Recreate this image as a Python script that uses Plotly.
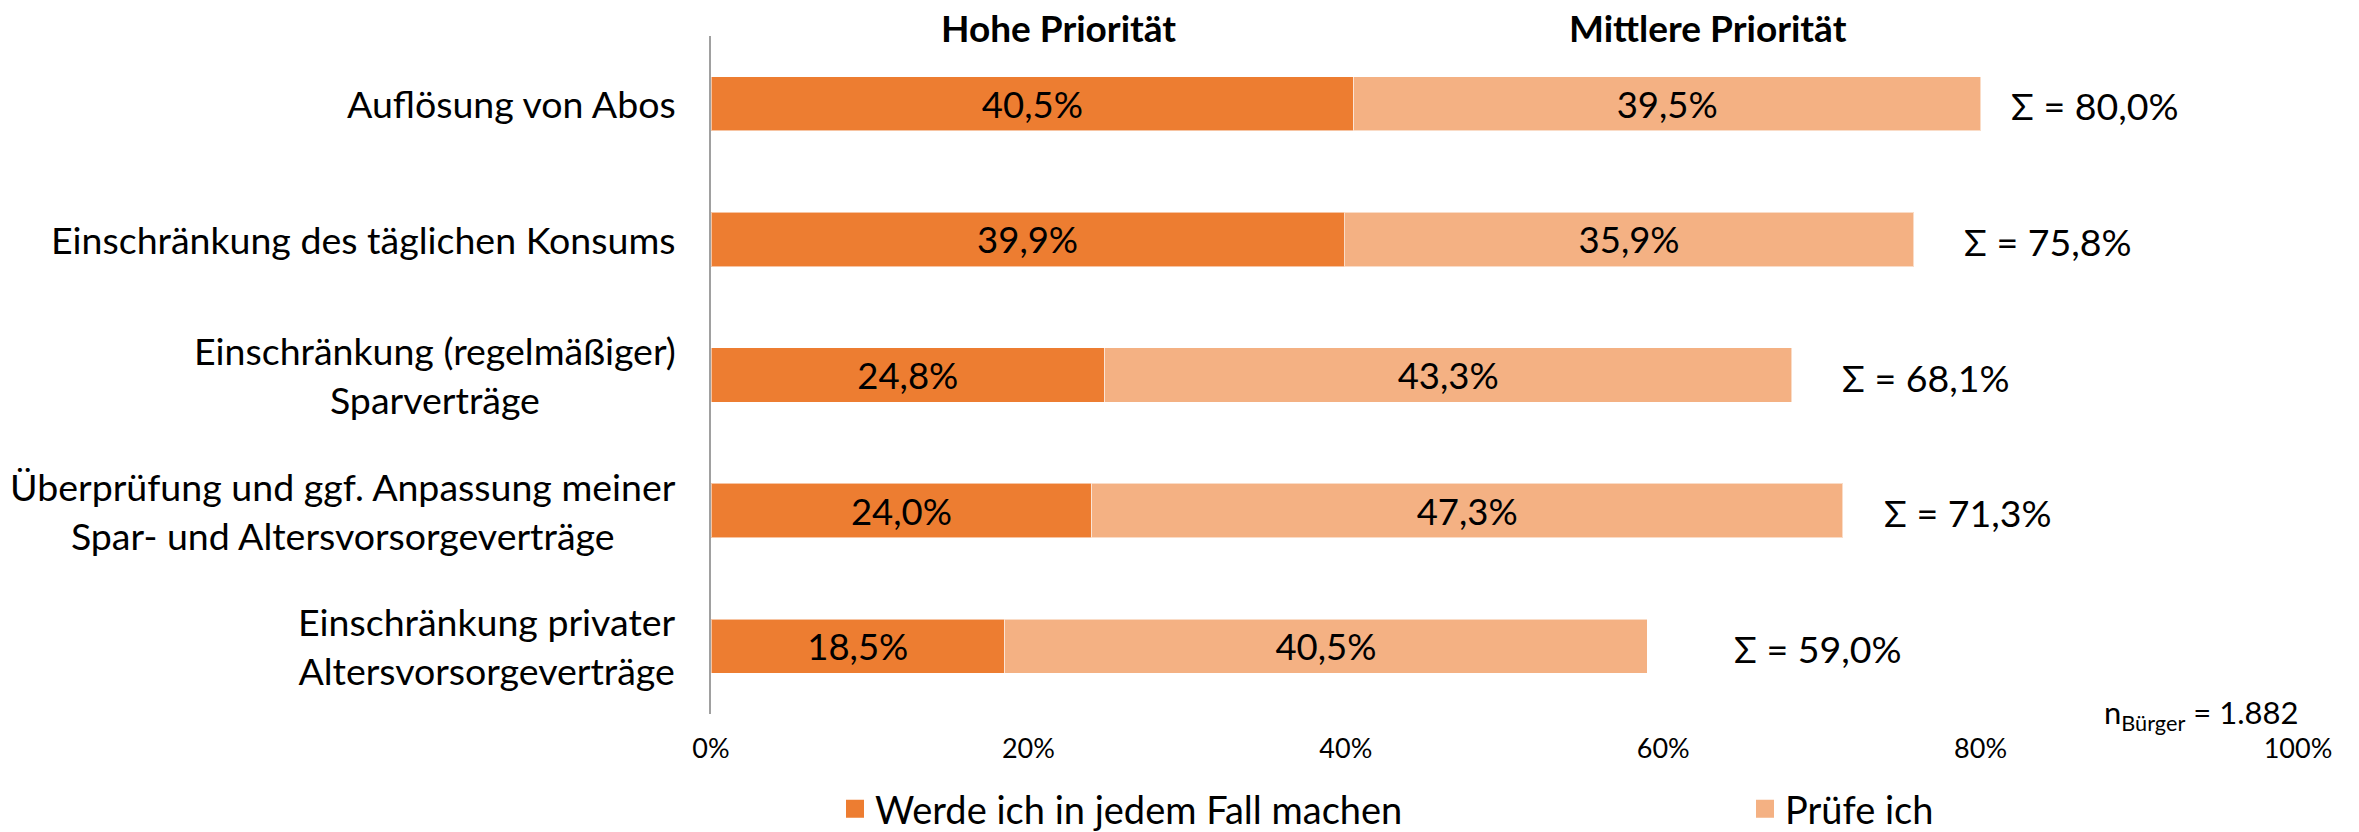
import plotly.graph_objects as go

categories = [
    "Auflösung von Abos",
    "Einschränkung des täglichen Konsums",
    "Einschränkung (regelmäßiger)<br>Sparverträge",
    "Überprüfung und ggf. Anpassung meiner<br>Spar- und Altersvorsorgeverträge",
    "Einschränkung privater<br>Altersvorsorgeverträge",
]
series_names = ["Werde ich in jedem Fall machen", "Prüfe ich"]
hohe = [40.5, 39.9, 24.8, 24.0, 18.5]
mittlere = [39.5, 35.9, 43.3, 47.3, 40.5]
tick_values = [0, 20, 40, 60, 80, 100]
tick_labels = ["0%", "20%", "40%", "60%", "80%", "100%"]
header_texts = ["Hohe Priorität", "Mittlere Priorität"]
n_text = "n<sub>Bürger</sub> = 1.882"

# styling / layout (not data)
colors = ["#ED7D31", "#F4B183"]
sum_gap_px = [28, 48, 48, 39, 85]
FONT = "Lato"

W, H = 2359, 832
ML, MT = 711, 36
MR = W - 2298
MB = H - 714
PW, PH = W - ML - MR, H - MT - MB

fig = go.Figure()
legend_ids = ["legend", "legend2"]
for name, vals, col in zip(series_names, [hohe, mittlere], colors):
    fig.add_trace(go.Bar(
        y=categories, x=vals, name=name, orientation="h",
        marker=dict(color=col, line=dict(width=1, color="rgba(255,255,255,0.55)")),
        width=0.4, showlegend=False,
        texttemplate="%{x:.1f}%", textposition="inside",
        insidetextanchor="middle",
        textfont=dict(family=FONT, size=36.5, color="black"),
    ))
# legend entries (square swatches)
for name, col, lg in zip(series_names, colors, legend_ids):
    fig.add_trace(go.Scatter(
        x=[None], y=[None], mode="markers", name=name, legend=lg,
        marker=dict(symbol="square", size=16, color=col, line=dict(color=col, width=2)),
        showlegend=True, hoverinfo="skip",
    ))

annotations = []
for cat in categories:
    annotations.append(dict(
        xref="paper", yref="y", x=0, y=cat, text=cat, showarrow=False,
        xanchor="right", yanchor="middle", align="center", xshift=-33,
        font=dict(family=FONT, size=37.5, color="black"),
    ))
for cat, a, b, gap in zip(categories, hohe, mittlere, sum_gap_px):
    total = a + b
    annotations.append(dict(
        xref="x", yref="y", x=total, y=cat,
        text="Σ = " + f"{total:.1f}".replace(".", ",") + "%",
        showarrow=False, xanchor="left", yanchor="middle", xshift=gap, yshift=-2,
        font=dict(family=FONT, size=37.5, color="black"),
    ))
for txt, xp in zip(header_texts, [0.219, 0.628]):
    annotations.append(dict(
        xref="paper", yref="paper", x=xp, y=1 + 9 / PH,
        text=f"<b>{txt}</b>", showarrow=False, xanchor="center", yanchor="middle",
        font=dict(family=FONT, size=37, color="black"),
    ))
annotations.append(dict(
    xref="paper", yref="paper", x=1.0, y=0.0, text=n_text, showarrow=False,
    xanchor="right", yanchor="middle", xshift=2, yshift=0,
    font=dict(family=FONT, size=31, color="black"),
))

legend_common = dict(
    orientation="h", xanchor="left",
    y=-(809 - 714) / PH, yanchor="middle",
    font=dict(family=FONT, size=38, color="black"),
    bgcolor="rgba(0,0,0,0)",
)

fig.update_layout(
    width=W, height=H,
    margin=dict(l=ML, r=MR, t=MT, b=MB, autoexpand=False),
    barmode="stack",
    bargap=0.6,
    separators=",.",
    plot_bgcolor="white", paper_bgcolor="white",
    font=dict(family=FONT, color="black"),
    showlegend=True,
    legend=dict(x=(835 - ML) / PW, **legend_common),
    legend2=dict(x=(1745 - ML) / PW, **legend_common),
    annotations=annotations,
    xaxis=dict(
        range=[0, 100], tickvals=tick_values, ticktext=tick_labels,
        showgrid=False, zeroline=False, showline=False, ticks="",
        ticklabelstandoff=16,
        tickfont=dict(family=FONT, size=27, color="black"),
    ),
    yaxis=dict(
        categoryorder="array", categoryarray=categories, autorange="reversed",
        showticklabels=False, showgrid=False, zeroline=False,
        showline=True, linecolor="#A0A0A0", linewidth=2, ticks="",
    ),
)

fig.write_html(
    "out.html",
    config={"displayModeBar": False},
    post_script="document.body.style.margin='0';document.body.style.overflow='hidden';",
)
